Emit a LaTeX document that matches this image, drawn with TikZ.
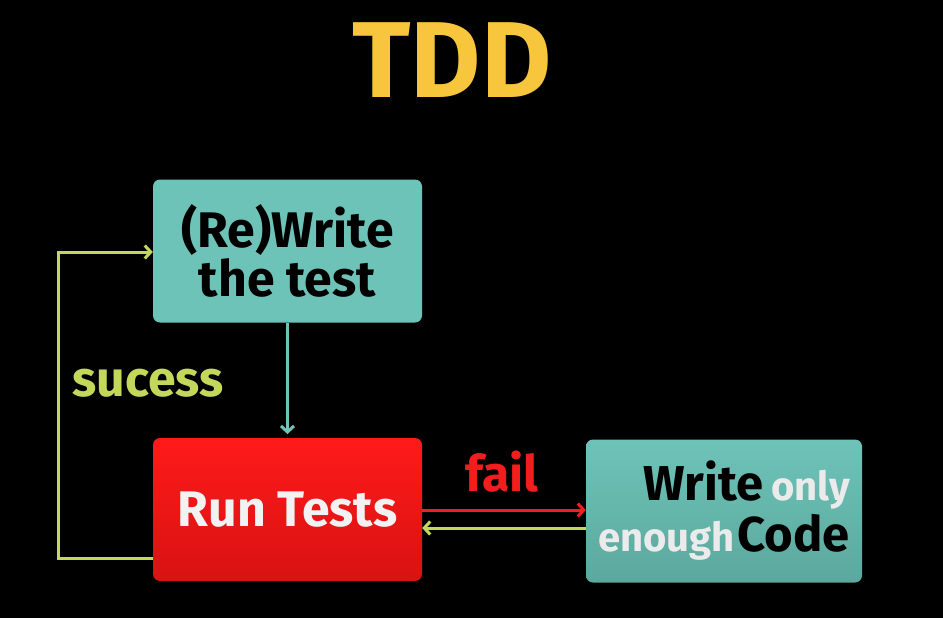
\documentclass[tikz,border=0pt]{standalone}
\usepackage{fontspec}
\setmainfont{Fira Sans}
\usepackage{xcolor}
\usetikzlibrary{arrows.meta}

\definecolor{tddyellow}{HTML}{F7C63C}
\definecolor{tealbox}{HTML}{6EC3B8}
\definecolor{tealdark}{HTML}{5BA89E}
\definecolor{redtop}{HTML}{FF1A1A}
\definecolor{redbot}{HTML}{D81212}
\definecolor{loopgreen}{HTML}{C3D85A}
\definecolor{failred}{HTML}{F21E1E}

\begin{document}
\begin{tikzpicture}[x=1pt,y=-1pt,
    box/.style={rounded corners=7pt,minimum width=269pt,minimum height=143pt,inner sep=0pt},
    boxtext/.style={font=\bfseries\fontsize{50}{49}\selectfont},
    conn/.style={line width=3pt,-{Straight Barb[length=6pt,width=13pt]}}]
            \fill[black] (0,0) rectangle (943,618);
            \useasboundingbox (0,0) rectangle (943,618);

            \node (title) at (452,60) [text=tddyellow,font=\bfseries\fontsize{108}{110}\selectfont] {TDD};

            \node (write) at (287.5,251) [box,fill=tealbox,boxtext,align=center,text=black] {(Re)Write\\the test};
            \node (run) at (287.5,509.5) [box,top color=redtop,bottom color=redbot,boxtext,text=white!95!black] {Run Tests};
            \node (code) at (724,511) [box,minimum width=276pt,top color=tealbox,bottom color=tealdark,text=black,text width=252pt,align=right,
                font=\bfseries\fontsize{49}{49}\selectfont]
                {Write\,{\color{white!92!black}\fontsize{40}{49}\selectfont only}\\[2pt]{\color{white!92!black}\fontsize{40}{49}\selectfont enough}\kern3pt Code};

            \coordinate (lb) at (58,558);
            \coordinate (lt) at (58,252);

            \draw[conn,tealbox] (write) -- (run.north |- 0,434);
            \draw[conn,loopgreen] (run.west |- lb) -- (lb) -- (lt) -- (write.west |- lt);
            \node (ok) at (148,383) [text=loopgreen,boxtext] {sucess};

            \draw[conn,failred] (run.east |- 0,510) -- (code.west |- 0,510);
            \node (fail) at (502,472) [text=failred,boxtext] {fail};
            \draw[conn,loopgreen] (code.west |- 0,528) -- (run.east |- 0,528);

        \end{tikzpicture}
\end{document}
